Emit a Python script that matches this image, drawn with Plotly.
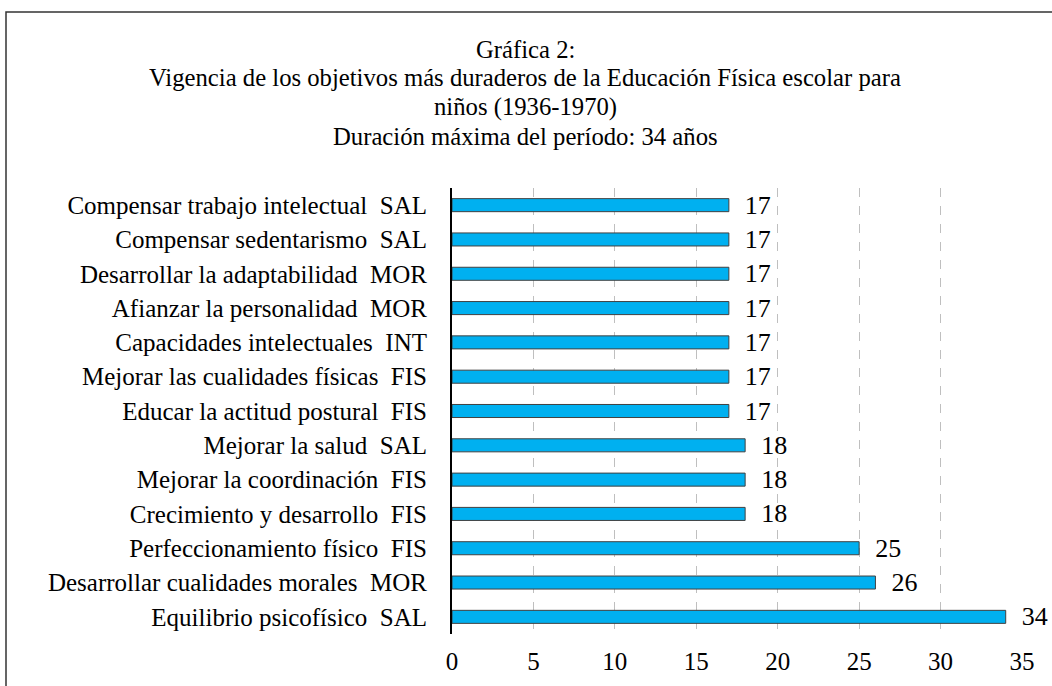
import plotly.graph_objects as go

# Datos (de abajo hacia arriba)
objetivos = [
    "Equilibrio psicofísico\u00a0 SAL",
    "Desarrollar cualidades morales\u00a0 MOR",
    "Perfeccionamiento físico\u00a0 FIS",
    "Crecimiento y desarrollo\u00a0 FIS",
    "Mejorar la coordinación\u00a0 FIS",
    "Mejorar la salud\u00a0 SAL",
    "Educar la actitud postural\u00a0 FIS",
    "Mejorar las cualidades físicas\u00a0 FIS",
    "Capacidades intelectuales\u00a0 INT",
    "Afianzar la personalidad\u00a0 MOR",
    "Desarrollar la adaptabilidad\u00a0 MOR",
    "Compensar sedentarismo\u00a0 SAL",
    "Compensar trabajo intelectual\u00a0 SAL",
]
anios = [34, 26, 25, 18, 18, 18, 17, 17, 17, 17, 17, 17, 17]
ticks_x = [0, 5, 10, 15, 20, 25, 30, 35]
titulo = [
    "Gráfica 2:",
    "Vigencia de los objetivos más duraderos de la Educación Física escolar para",
    "niños (1936-1970)",
    "Duración máxima del período: 34 años",
]

fuente = "Liberation Serif"

fig = go.Figure()

fig.add_trace(go.Bar(
    x=anios,
    y=objetivos,
    orientation="h",
    width=0.38,
    marker=dict(color="#00B0F0", line=dict(color="#404040", width=1)),
    text=anios,
    texttemplate="\u00a0\u00a0%{x}",
    textposition="outside",
    constraintext="none",
    cliponaxis=False,
    textfont=dict(family=fuente, size=26, color="black"),
))

W, H = 1052, 686
ml, mr, mt, mb = 452, 30, 188, 52
pw, ph = W - ml - mr, H - mt - mb

# Marco del gráfico
fig.add_shape(
    type="rect", xref="paper", yref="paper",
    x0=(6 - ml) / pw, x1=(W + 20 - ml) / pw,
    y0=-(mb + 20) / ph, y1=(H - mb - 12) / ph,
    line=dict(color="#333333", width=1.5),
    layer="below",
)

# Título, una línea por anotación
centros = [49, 78, 107, 136]
for linea, yc in zip(titulo, centros):
    fig.add_annotation(
        text=linea, xref="paper", yref="paper",
        x=(525 - ml) / pw, y=(H - mb - yc) / ph,
        xanchor="center", yanchor="middle",
        showarrow=False,
        font=dict(family=fuente, size=24.7, color="black"),
    )

fig.update_layout(
    width=W, height=H,
    margin=dict(l=ml, r=mr, t=mt, b=mb),
    paper_bgcolor="white",
    plot_bgcolor="white",
    showlegend=False,
    font=dict(family=fuente, size=25, color="black"),
    xaxis=dict(
        range=[0, 35],
        tickvals=ticks_x,
        showgrid=True,
        gridcolor="#bfbfbf",
        griddash="dash",
        gridwidth=1,
        zeroline=False,
        showline=False,
        ticks="",
        ticklabelstandoff=10,
        tickfont=dict(family=fuente, size=25),
    ),
    yaxis=dict(
        showline=True,
        linecolor="black",
        linewidth=2,
        ticks="",
        ticklabelstandoff=18,
        tickfont=dict(family=fuente, size=25),
        range=[-0.5, 12.5],
    ),
)

fig.write_html("out.html", config={"displayModeBar": False},
               post_script="document.body.style.margin='0';")
